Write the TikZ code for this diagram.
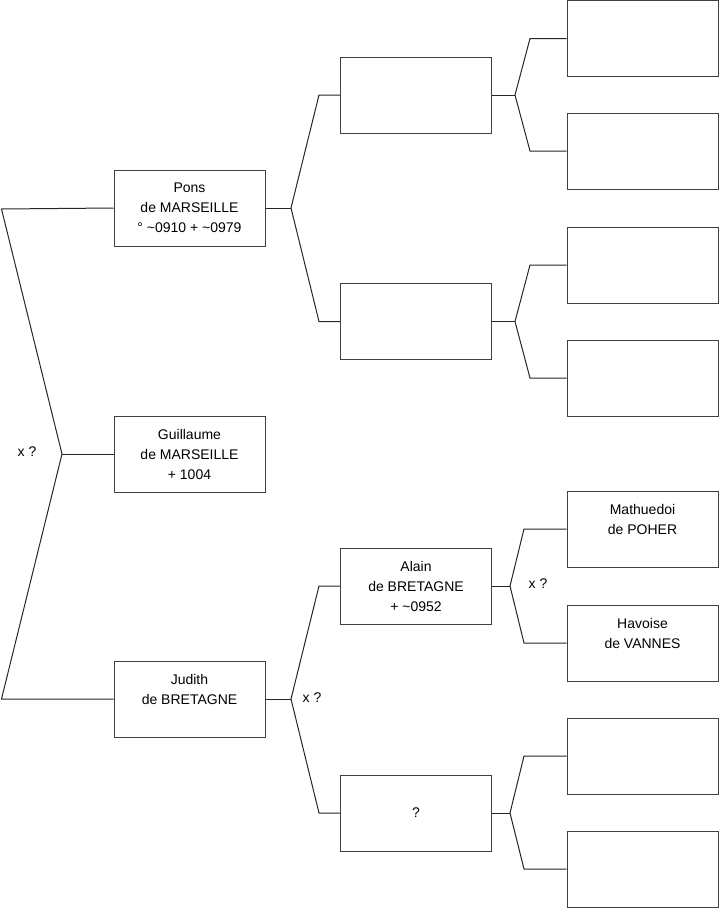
\documentclass[tikz,border=0pt]{standalone}
\usepackage{fontspec}
\setmainfont{Liberation Sans}
\begin{document}
\begin{tikzpicture}[x=1pt,y=-1pt,
  box/.style={draw=black!75,line width=1pt,minimum width=151pt,minimum height=76pt,inner sep=0pt},
  txt/.style={anchor=north,align=center,inner sep=0pt,font=\fontsize{14}{20}\selectfont,text=black},
  lbl/.style={inner sep=0pt,font=\fontsize{14}{20}\selectfont,text=black},
  conn/.style={draw=black!85,line width=1pt}]
\useasboundingbox (0,0) rectangle (719,908);
% generation 1
\node[box] (p1) at (189.5,208) {};
\node[box] (g1) at (189.5,454) {};
\node[box] (j1) at (189.5,699) {};
% generation 2
\node[box] (b1) at (416,95) {};
\node[box] (b2) at (416,321.5) {};
\node[box] (al) at (416,586) {};
\node[box] (qq) at (416,813) {};
% generation 3
\node[box] (c1) at (642.5,38.5) {};
\node[box] (c2) at (642.5,151) {};
\node[box] (c3) at (642.5,265) {};
\node[box] (c4) at (642.5,378) {};
\node[box] (c5) at (642.5,529) {};
\node[box] (c6) at (642.5,643) {};
\node[box] (c7) at (642.5,756) {};
\node[box] (c8) at (642.5,869) {};
% texts
\node[txt] (tp1) at (189.5,183) {Pons\\de MARSEILLE\\° \textasciitilde0910 + \textasciitilde0979};
\node[txt] (tg1) at (189.5,429) {Guillaume\\de MARSEILLE\\+ 1004};
\node[txt] (tj1) at (189.5,674) {Judith\\de BRETAGNE};
\node[txt] (tal) at (416,561) {Alain\\de BRETAGNE\\+ \textasciitilde0952};
\node[txt] (tqq) at (416,808) {?};
\node[txt] (tc5) at (642.5,504) {Mathuedoi\\de POHER};
\node[txt] (tc6) at (642.5,618) {Havoise\\de VANNES};
% fork coordinates
\coordinate (f0) at (62,454);
\coordinate (a0) at (1.5,209);
\coordinate (z0) at (1.5,699);
\coordinate (f1) at (291,208);
\coordinate (a1) at (319,95);
\coordinate (z1) at (319,321.5);
\coordinate (f2) at (291,699);
\coordinate (a2) at (319,586);
\coordinate (z2) at (319,813);
\coordinate (f3) at (515,95);
\coordinate (a3) at (530,38.5);
\coordinate (z3) at (530,151);
\coordinate (f4) at (515,321.5);
\coordinate (a4) at (530,265);
\coordinate (z4) at (530,378);
\coordinate (f5) at (510,586);
\coordinate (a5) at (524,529);
\coordinate (z5) at (524,643);
\coordinate (f6) at (510,813);
\coordinate (a6) at (524,756);
\coordinate (z6) at (524,869);
% connectors
\draw[conn] (p1.west) -- (a0) -- (f0) -- (z0) -- (j1.west);
\draw[conn] (g1.west) -- (f0);
\draw[conn] (p1.east) -- (f1);
\draw[conn] (b1.west) -- (a1) -- (f1) -- (z1) -- (b2.west);
\draw[conn] (j1.east) -- (f2);
\draw[conn] (al.west) -- (a2) -- (f2) -- (z2) -- (qq.west);
\draw[conn] (b1.east) -- (f3);
\draw[conn] (c1.west) -- (a3) -- (f3) -- (z3) -- (c2.west);
\draw[conn] (b2.east) -- (f4);
\draw[conn] (c3.west) -- (a4) -- (f4) -- (z4) -- (c4.west);
\draw[conn] (al.east) -- (f5);
\draw[conn] (c5.west) -- (a5) -- (f5) -- (z5) -- (c6.west);
\draw[conn] (qq.east) -- (f6);
\draw[conn] (c7.west) -- (a6) -- (f6) -- (z6) -- (c8.west);
% labels
\node[lbl] (x0) at (27,452) {x ?};
\node[lbl] (x1) at (312,698) {x ?};
\node[lbl] (x2) at (538,584) {x ?};
\end{tikzpicture}
\end{document}
